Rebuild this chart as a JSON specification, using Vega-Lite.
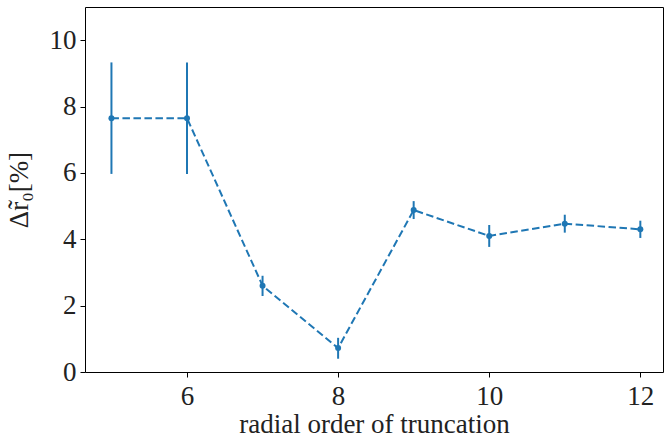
{
  "$schema": "https://vega.github.io/schema/vega-lite/v6.json",
  "autosize": {"type": "none"},
  "width": 578,
  "height": 365,
  "padding": {"left": 85, "top": 7, "right": 2, "bottom": 69},
  "background": "white",
  "config": {
    "view": {"stroke": "black", "strokeWidth": 1},
    "axis": {
      "grid": false,
      "domain": false,
      "tickColor": "black",
      "tickSize": 5,
      "tickWidth": 1,
      "labelFont": "Liberation Serif",
      "labelFontSize": 27,
      "labelColor": "#222222",
      "titleFont": "Liberation Serif",
      "titleFontSize": 27,
      "titleFontWeight": "normal",
      "titleColor": "#222222"
    }
  },
  "data": {
    "values": [
      {"order": 5, "value": 7.65, "lo": 5.97, "hi": 9.33},
      {"order": 6, "value": 7.65, "lo": 5.97, "hi": 9.33},
      {"order": 7, "value": 2.6, "lo": 2.29, "hi": 2.9},
      {"order": 8, "value": 0.72, "lo": 0.4, "hi": 1.03},
      {"order": 9, "value": 4.88, "lo": 4.61, "hi": 5.15},
      {"order": 10, "value": 4.1, "lo": 3.77, "hi": 4.43},
      {"order": 11, "value": 4.47, "lo": 4.2, "hi": 4.74},
      {"order": 12, "value": 4.3, "lo": 4.04, "hi": 4.56}
    ]
  },
  "encoding": {
    "x": {
      "field": "order",
      "type": "quantitative",
      "scale": {"domain": [4.65, 12.3], "nice": false, "zero": false},
      "axis": {"values": [6, 8, 10, 12], "title": "radial order of truncation", "labelPadding": 6, "titlePadding": 2}
    }
  },
  "layer": [
    {
      "mark": {"type": "rule", "color": "#1f77b4", "strokeWidth": 2},
      "encoding": {
        "y": {"field": "lo", "type": "quantitative"},
        "y2": {"field": "hi"}
      }
    },
    {
      "mark": {"type": "line", "color": "#1f77b4", "strokeWidth": 2, "strokeDash": [7.5, 3.5]},
      "encoding": {
        "y": {"field": "value", "type": "quantitative"}
      }
    },
    {
      "mark": {"type": "point", "filled": true, "color": "#1f77b4", "opacity": 1, "size": 36},
      "encoding": {
        "y": {
          "field": "value",
          "type": "quantitative",
          "scale": {"domain": [0, 11], "nice": false},
          "axis": {"values": [0, 2, 4, 6, 8, 10], "title": "Δr̃₀[%]", "labelPadding": 4, "titlePadding": 16}
        }
      }
    }
  ]
}
